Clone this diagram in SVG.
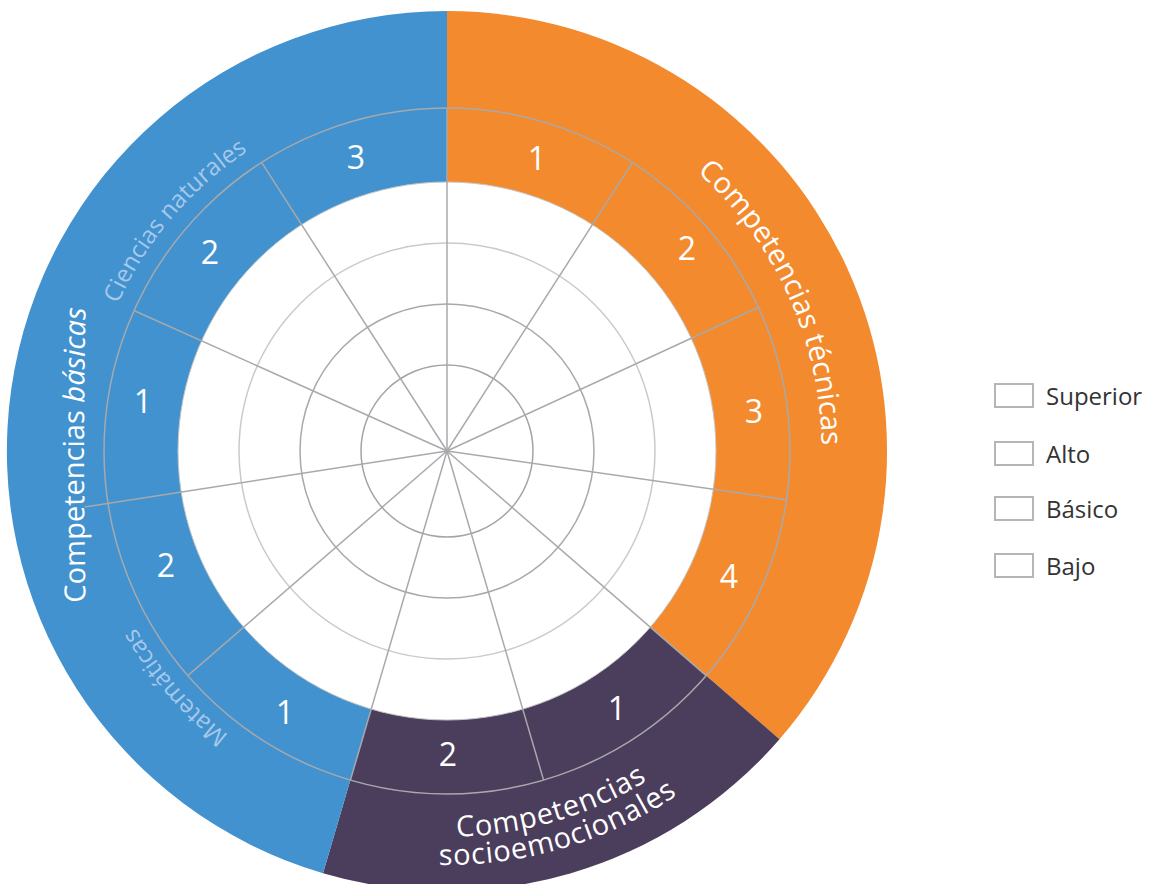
<svg xmlns="http://www.w3.org/2000/svg" width="1150" height="884" viewBox="0 0 1150 884">
<style>
.lbl{font-family:"Open Sans","Noto Sans","Liberation Sans",sans-serif;fill:#fff;font-size:29px}
.soc{letter-spacing:0.8px}
.sub{font-family:"Open Sans","Noto Sans","Liberation Sans",sans-serif;fill:#a6c8ea;font-size:24px}
.num{font-family:"Open Sans","Noto Sans","Liberation Sans",sans-serif;fill:#fff;font-size:32px;text-anchor:middle}
.leg{font-family:"Open Sans","Noto Sans","Liberation Sans",sans-serif;fill:#333;font-size:24px}
.ring{fill:none;stroke:#a7a9ac;stroke-width:1.5}
.spoke{stroke:#a7a9ac;stroke-width:1.5}
.box{fill:#fff;stroke:#b5b5b5;stroke-width:2}
</style>
<defs>
<path id="pTec" d="M 353.1 88.0 A 375 375 0 0 1 659.4 760.0"/>
<path id="pBas" d="M 86 620 Q 82 455 86 290"/>
<path id="pCie" d="M 169.4 679.0 A 358 358 0 0 1 626.3 141.6"/>
<path id="pMat" d="M 631.4 757.9 A 358 358 0 0 1 168.8 225.7"/>
<path id="pSoc1" d="M 101.3 622.6 A 386 386 0 0 0 830.6 408.0"/>
<path id="pSoc2" d="M 76.2 635.1 A 414 414 0 0 0 858.4 404.8"/>
</defs>

<g id="sector-tecnicas">
<path d="M447 451 L447 11 A440 440 0 0 1 779.5 739.2 Z" fill="#f48a2e"/>
</g>
<g id="sector-socioemocionales">
<path d="M447 451 L779.5 739.2 A440 440 0 0 1 323.0 873.2 Z" fill="#4b3d5c"/>
</g>
<g id="sector-basicas">
<path d="M447 451 L323.0 873.2 A440 440 0 0 1 447 11 Z" fill="#4192cf"/>
</g>

<g id="grid">
<circle class="ring" cx="447" cy="451" r="343"/>
<circle cx="447" cy="451" r="269" fill="#fff" stroke="#c4c4c4" stroke-width="1"/>
<circle cx="447" cy="451" r="208" fill="none" stroke="#cacaca" stroke-width="1.5"/>
<circle cx="447" cy="451" r="147" fill="none" stroke="#a9a9a9" stroke-width="1.5"/>
<circle cx="447" cy="451" r="86" fill="none" stroke="#a3a3a3" stroke-width="1.5"/>
</g>

<g id="connectors">
<line class="spoke" x1="447" y1="451" x2="447" y2="108"/>
<line class="spoke" x1="447" y1="451" x2="632.4" y2="162.4"/>
<line class="spoke" x1="447" y1="451" x2="759.0" y2="307.0"/>
<line class="spoke" x1="447" y1="451" x2="786.5" y2="499.8"/>
<line class="spoke" x1="447" y1="451" x2="706.2" y2="675.6"/>
<line class="spoke" x1="447" y1="451" x2="543.6" y2="780.1"/>
<line class="spoke" x1="447" y1="451" x2="350.4" y2="780.1"/>
<line class="spoke" x1="447" y1="451" x2="187.8" y2="675.6"/>
<line class="spoke" x1="447" y1="451" x2="84.7" y2="507.0"/>
<line class="spoke" x1="447" y1="451" x2="135.0" y2="311.0"/>
<line class="spoke" x1="447" y1="451" x2="261.6" y2="162.4"/>
</g>

<g id="numbers">
<text class="num" x="356" y="169">3</text>
<text class="num" x="537" y="170">1</text>
<text class="num" x="687" y="260">2</text>
<text class="num" x="754" y="423">3</text>
<text class="num" x="729" y="588">4</text>
<text class="num" x="617" y="720">1</text>
<text class="num" x="448" y="766">2</text>
<text class="num" x="285" y="724">1</text>
<text class="num" x="166" y="577">2</text>
<text class="num" x="143" y="413">1</text>
<text class="num" x="210" y="264">2</text>
</g>

<g id="labels">
<text class="lbl"><textPath href="#pTec" startOffset="50%" text-anchor="middle">Competencias técnicas</textPath></text>
<text class="lbl"><textPath href="#pBas" startOffset="50%" text-anchor="middle">Competencias <tspan font-style="italic">básicas</tspan></textPath></text>
<text class="sub"><textPath href="#pCie" startOffset="50%" text-anchor="middle">Ciencias naturales</textPath></text>
<text class="sub"><textPath href="#pMat" startOffset="50%" text-anchor="middle">Matemáticas</textPath></text>
<text class="lbl soc"><textPath href="#pSoc1" startOffset="50%" text-anchor="middle">Competencias</textPath></text>
<text class="lbl soc"><textPath href="#pSoc2" startOffset="50%" text-anchor="middle">socioemocionales</textPath></text>
</g>

<g id="legend">
<g id="legend-superior"><rect class="box" x="995" y="384" width="38" height="23"/><text class="leg" x="1046" y="405">Superior</text></g>
<g id="legend-alto"><rect class="box" x="995" y="442" width="38" height="23"/><text class="leg" x="1046" y="463">Alto</text></g>
<g id="legend-basico"><rect class="box" x="995" y="497" width="38" height="23"/><text class="leg" x="1046" y="518">Básico</text></g>
<g id="legend-bajo"><rect class="box" x="995" y="554" width="38" height="23"/><text class="leg" x="1046" y="575">Bajo</text></g>
</g>
</svg>
